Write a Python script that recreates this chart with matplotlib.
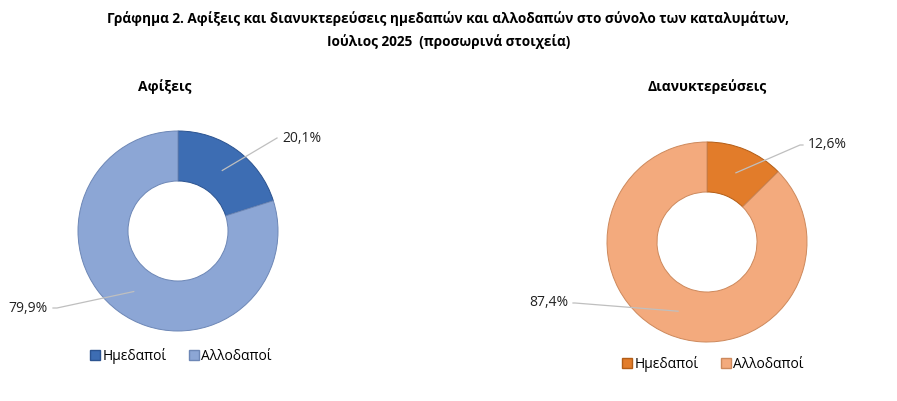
import numpy as np
import matplotlib
matplotlib.use('Agg')
import matplotlib.pyplot as plt
from matplotlib.lines import Line2D

plt.rcParams['font.family'] = ['Open Sans', 'DejaVu Sans']

##################################################################
categories = ['Ημεδαποί', 'Αλλοδαποί']
arrivals = [20.1, 79.9]
nights = [12.6, 87.4]
arrivals_labels = ['20,1%', '79,9%']
nights_labels = ['12,6%', '87,4%']

title = ('Γράφημα 2. Αφίξεις και διανυκτερεύσεις ημεδαπών και αλλοδαπών στο σύνολο των καταλυμάτων,\n'
         'Ιούλιος 2025  (προσωρινά στοιχεία)')
##################################################################
W, H = 897, 401
fig = plt.figure(figsize=[W/100., H/100.], dpi=100)

def make_ax(cx, cy, r=100, half=125):
    # axes placed so that 1 data unit = r pixels around the centre
    return fig.add_axes([(cx - half)/W, (H - cy - half)/H, 2*half/W, 2*half/H])

panels = [
    dict(cx=178, cy=231, vals=arrivals, labs=arrivals_labels, name='Αφίξεις',
         colors=['#3D6DB3', '#8CA6D5'], edges=['#2B5390', '#6D87B6'],
         txt=[(1.04, 0.92, 'left'), (-1.30, -0.74, 'right')],
         knee=[(0.99, 0.93), (-1.21, -0.77)], leg_y=356, leg_x=180),
    dict(cx=707, cy=242, vals=nights, labs=nights_labels, name='Διανυκτερεύσεις',
         colors=['#E27C2A', '#F3AA7D'], edges=['#B35D16', '#CD895C'],
         txt=[(1.01, 0.95, 'left'), (-1.39, -0.63, 'right')],
         knee=[(0.93, 0.97), (-1.32, -0.61)], leg_y=364, leg_x=712),
]

for p in panels:
    ax = make_ax(p['cx'], p['cy'])
    wedges, _ = ax.pie(p['vals'], colors=p['colors'], startangle=90, counterclock=False,
                       radius=1.0, wedgeprops=dict(width=0.5))
    for w, ec in zip(wedges, p['edges']):
        w.set_edgecolor(ec)
        w.set_linewidth(0.7)
    ax.set_xlim(-1.25, 1.25)
    ax.set_ylim(-1.25, 1.25)
    ax.set_aspect('equal')
    ax.axis('off')

    for w, lab, (tx, ty, ha), (kx, ky) in zip(wedges, p['labs'], p['txt'], p['knee']):
        ang = np.deg2rad((w.theta1 + w.theta2) / 2.)
        px, py = 0.75*np.cos(ang), 0.75*np.sin(ang)
        ax.plot([px, kx, tx - (0.05 if ha == 'left' else -0.05)], [py, ky, ky],
                color='#BFBFBF', lw=0.9, clip_on=False)
        ax.text(tx, ky, lab, ha=ha, va='center', fontsize=10, color='#222222')

    fig.text(p['cx']/W - (0.015 if p['name'] == 'Αφίξεις' else 0.0), 1 - 87./H, p['name'],
             ha='center', va='center', fontsize=10, fontweight='bold')

    handles = [Line2D([], [], marker='s', ls='', markersize=7, markerfacecolor=c,
                      markeredgecolor=e) for c, e in zip(p['colors'], p['edges'])]
    fig.legend(handles, categories, loc='center', bbox_to_anchor=(p['leg_x']/W, 1 - p['leg_y']/H),
               ncol=2, frameon=False, fontsize=10, handletextpad=0.0, columnspacing=1.5,
               handlelength=1.0)

fig.text(0.5, 1 - 30./H, title, ha='center', va='center', fontsize=9.8, fontweight='bold',
         linespacing=1.75)

plt.savefig('out.png', dpi=100)
